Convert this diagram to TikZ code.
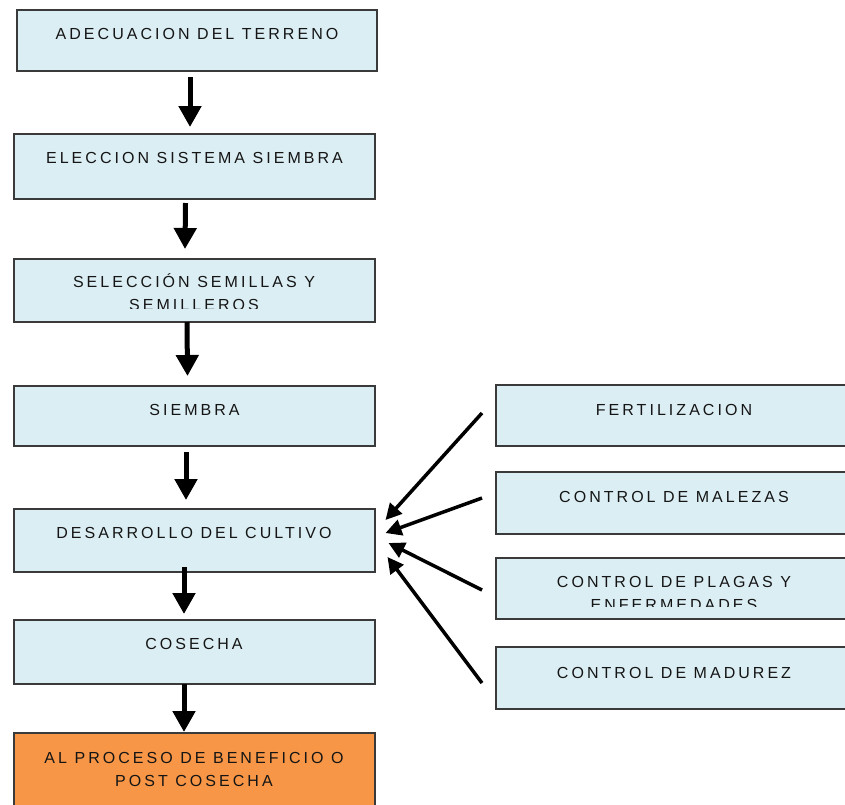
\documentclass[tikz,border=0pt]{standalone}
\usepackage{fontspec}
\setmainfont{Liberation Sans}[LetterSpace=19]
\usetikzlibrary{arrows.meta,calc}

\definecolor{boxblue}{HTML}{DBEEF4}
\definecolor{boxorange}{HTML}{F79646}
\definecolor{boxline}{HTML}{3A3A3A}
\definecolor{txtcol}{HTML}{151515}

\tikzset{
  stepbox/.style={draw=boxline, line width=2pt, fill=boxblue, rectangle, inner sep=0pt, outer sep=0pt},
  lbox/.style={stepbox, minimum width=361pt},
  rbox/.style={stepbox, minimum width=356pt},
  lbl/.style={font=\fontsize{16}{23}\selectfont, text=txtcol, inner sep=0pt, align=center, anchor=base},
  varr/.style={line width=5pt, -{Triangle[length=21pt,width=22pt]}},
  darr/.style={line width=3.5pt, -{Triangle[length=16pt,width=16pt]}},
}

\begin{document}
\begin{tikzpicture}[x=1pt,y=-1pt]
\useasboundingbox (0,0) rectangle (845,804);

% left column boxes
\node[lbox, minimum width=360pt, minimum height=61pt] (b1) at (197,40.5) {};
\node[lbox, minimum height=65pt] (b2) at (194.5,166.5) {};
\node[lbox, minimum height=63pt] (b3) at (194,290.5) {};
\node[lbox, minimum height=60pt] (b4) at (194.5,416) {};
\node[lbox, minimum height=63pt] (b5) at (194,540.5) {};
\node[lbox, minimum height=64pt] (b6) at (194,652) {};
\node[lbox, minimum height=80pt, fill=boxorange] (b7) at (194,773) {};

% right column boxes
\node[rbox, minimum height=61pt] (f) at (674,415.5) {};
\node[rbox, minimum height=62pt] (m) at (674,503) {};
\node[rbox, minimum height=61pt] (p) at (674,588.5) {};
\node[rbox, minimum height=62pt] (ma) at (674,678) {};

% texts
\node[lbl] (t1) at ([yshift=-29pt]b1.north) {ADECUACION DEL TERRENO};
\node[lbl] (t2) at ([yshift=-29pt]b2.north) {ELECCION SISTEMA SIEMBRA};
\begin{scope}
  \clip ([xshift=2pt,yshift=-2pt]b3.north west) rectangle ([xshift=-2pt,yshift=14pt]b3.south east);
  \node[lbl] (t3) at ([yshift=-51pt]b3.north) {SELECCIÓN SEMILLAS Y\\SEMILLEROS};
\end{scope}
\node[lbl] (t4) at ([yshift=-29pt]b4.north) {SIEMBRA};
\node[lbl] (t5) at ([yshift=-29pt]b5.north) {DESARROLLO DEL CULTIVO};
\node[lbl] (t6) at ([yshift=-29pt]b6.north) {COSECHA};
\node[lbl] (t7) at ([yshift=-53pt]b7.north) {AL PROCESO DE BENEFICIO O\\POST COSECHA};

\node[lbl] (tf) at ([yshift=-30pt]f.north) {FERTILIZACION};
\node[lbl] (tm) at ([yshift=-30pt]m.north) {CONTROL DE MALEZAS};
\begin{scope}
  \clip ([xshift=2pt,yshift=-2pt]p.north west) rectangle ([xshift=-2pt,yshift=13pt]p.south east);
  \node[lbl] (tp) at ([yshift=-52pt]p.north) {CONTROL DE PLAGAS Y\\ENFERMEDADES};
\end{scope}
\node[lbl] (tma) at ([yshift=-31pt]ma.north) {CONTROL DE MADUREZ};

% vertical arrows
\draw[varr] ([xshift=-7pt,yshift=-6pt]b1.south) -- ([xshift=-4.5pt,yshift=7pt]b2.north);
\draw[varr] ([xshift=-9pt,yshift=-4pt]b2.south) -- ([xshift=-9pt,yshift=10pt]b3.north);
\draw[varr] ([xshift=-7pt,yshift=0pt]b3.south) -- ([xshift=-7pt,yshift=10pt]b4.north);
\draw[varr] ([xshift=-8.5pt,yshift=-6pt]b4.south) -- ([xshift=-8pt,yshift=9pt]b5.north);
\draw[varr] ([xshift=-10pt,yshift=5pt]b5.south) -- ([xshift=-10pt,yshift=6pt]b6.north);
\draw[varr] ([xshift=-10pt,yshift=0pt]b6.south) -- ([xshift=-10pt,yshift=1pt]b7.north);

% diagonal arrows
\draw[darr] ([xshift=-14pt,yshift=2.5pt]f.west) -- ([xshift=11pt,yshift=20.5pt]b5.east);
\draw[darr] ([xshift=-14pt,yshift=5pt]m.west) -- ([xshift=11pt,yshift=7.5pt]b5.east);
\draw[darr] ([xshift=-14pt,yshift=-1.5pt]p.west) -- ([xshift=14pt,yshift=-2.5pt]b5.east);
\draw[darr] ([xshift=-14pt,yshift=-5pt]ma.west) -- ([xshift=13pt,yshift=-16.5pt]b5.east);
\end{tikzpicture}
\end{document}
